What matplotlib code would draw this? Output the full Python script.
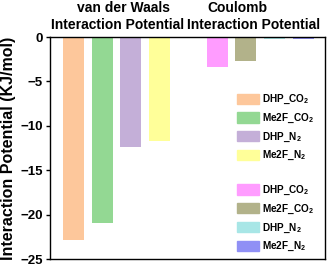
import matplotlib
matplotlib.use('Agg')
import matplotlib.pyplot as plt
from matplotlib.patches import Patch

plt.rcParams['font.family'] = 'Liberation Sans'
plt.rcParams['font.weight'] = 'bold'
plt.rcParams['mathtext.fontset'] = 'custom'
plt.rcParams['mathtext.rm'] = 'Liberation Sans:bold'
plt.rcParams['mathtext.bf'] = 'Liberation Sans:bold'
plt.rcParams['mathtext.default'] = 'rm'

# data
vdw_labels = ['DHP_CO$_2$', 'Me2F_CO$_2$', 'DHP_N$_2$', 'Me2F_N$_2$']
vdw_values = [-22.9, -20.9, -12.4, -11.7]
vdw_colors = ['#FDC79B', '#93D893', '#C4AFD8', '#FFFF99']

coul_labels = ['DHP_CO$_2$', 'Me2F_CO$_2$', 'DHP_N$_2$', 'Me2F_N$_2$']
coul_values = [-3.4, -2.7, -0.2, -0.2]
coul_colors = ['#FF9CFF', '#B2B28A', '#A8E6E6', '#9090F5']

vdw_x = [0, 1, 2, 3]
coul_x = [5, 6, 7, 8]

fig = plt.figure(figsize=(3.29, 2.66), dpi=100)
ax = fig.add_axes([50/329, 1-259/266, 275/329, 222/266])

ax.bar(vdw_x, vdw_values, width=0.73, color=vdw_colors)
ax.bar(coul_x, coul_values, width=0.73, color=coul_colors)

ax.set_xlim(-0.82, 8.76)
ax.set_ylim(-25, 0)
ax.set_yticks([0, -5, -10, -15, -20, -25])
ax.set_xticks([])
ax.tick_params(axis='y', labelsize=9.5, width=1, length=3, pad=2)
for s in ax.spines.values():
    s.set_linewidth(1)
ax.set_ylabel('Interaction Potential (KJ/mol)', fontsize=11.5, fontweight='bold', labelpad=3)

# group titles
tfs = 10
fig.text(123/329, 1-8/266, 'van der Waals', ha='center', va='center', fontsize=tfs, fontweight='bold')
fig.text(118/329, 1-25/266, 'Interaction Potential', ha='center', va='center', fontsize=tfs, fontweight='bold')
fig.text(237/329, 1-8/266, 'Coulomb', ha='center', va='center', fontsize=tfs, fontweight='bold')
fig.text(254/329, 1-25/266, 'Interaction Potential', ha='center', va='center', fontsize=tfs, fontweight='bold')

handles = [Patch(color=c, label=l) for c, l in zip(vdw_colors, vdw_labels)]
handles.append(Patch(color='none', label=' '))
handles += [Patch(color=c, label=l) for c, l in zip(coul_colors, coul_labels)]
ax.legend(handles=handles, loc='upper left', bbox_to_anchor=(237/329, 1-93/266),
          bbox_transform=fig.transFigure, frameon=False, fontsize=7.2,
          handlelength=2.2, handleheight=1.2, labelspacing=0.55, handletextpad=0.35,
          borderaxespad=0, borderpad=0)

fig.savefig('out.png', dpi=100)
